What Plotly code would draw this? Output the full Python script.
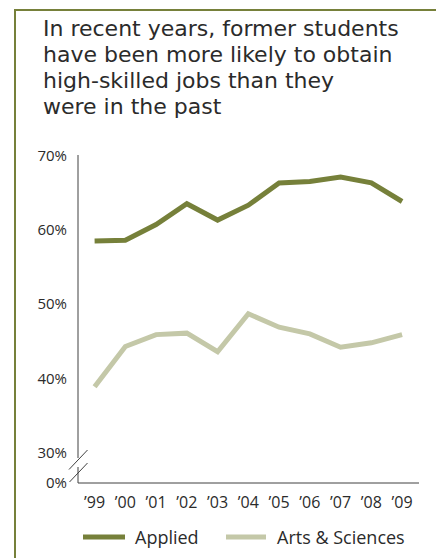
import plotly.graph_objects as go

# Share of former students in high-skilled jobs, by graduating year
years = ["’99", "’00", "’01", "’02", "’03", "’04", "’05", "’06", "’07", "’08", "’09"]
applied = [58.5, 58.6, 60.7, 63.5, 61.3, 63.3, 66.3, 66.5, 67.1, 66.3, 63.8]
arts_sciences = [38.9, 44.3, 45.9, 46.1, 43.6, 48.7, 46.9, 46.0, 44.2, 44.8, 45.9]

# Axis with a break: 0% sits just below 30% on the drawn scale
y_tick_vals = [25.95, 30, 40, 50, 60, 70]
y_tick_text = ["0%", "30%", "40%", "50%", "60%", "70%"]

title_lines = ["In recent years, former students",
               "have been more likely to obtain",
               "high-skilled jobs than they",
               "were in the past"]

OLIVE = "#76803A"
SAGE = "#C4C8A8"
AXIS = "#404040"
TEXT = "#2b2b2b"
FONT = "Open Sans"
TITLE_FONT = "DejaVu Sans"

W, H = 436, 558
L, R, T, B = 78, 17, 155, 75
PW, PH = W - L - R, H - T - B


def px(x):
    return (x - L) / PW


def py(y):
    return (H - B - y) / PH


fig = go.Figure()
fig.add_trace(go.Scatter(x=list(range(len(years))), y=applied, mode="lines",
                         line=dict(color=OLIVE, width=5), name="Applied",
                         showlegend=False))
fig.add_trace(go.Scatter(x=list(range(len(years))), y=arts_sciences, mode="lines",
                         line=dict(color=SAGE, width=5), name="Arts & Sciences",
                         showlegend=False))

shapes = []
# frame around the panel (top and left edges)
shapes.append(dict(type="line", xref="paper", yref="paper", x0=px(14), x1=px(440),
                   y0=py(10), y1=py(10), line=dict(color=OLIVE, width=2)))
shapes.append(dict(type="line", xref="paper", yref="paper", x0=px(15), x1=px(15),
                   y0=py(9), y1=py(562), line=dict(color=OLIVE, width=2)))
# y axis, split by the break
shapes.append(dict(type="line", xref="paper", yref="paper", x0=0, x1=0,
                   y0=py(458), y1=1, line=dict(color=AXIS, width=1)))
shapes.append(dict(type="line", xref="paper", yref="paper", x0=0, x1=0,
                   y0=0, y1=py(467), line=dict(color=AXIS, width=1)))
# x axis
shapes.append(dict(type="line", xref="paper", yref="paper", x0=0, x1=1,
                   y0=0, y1=0, line=dict(color=AXIS, width=1)))
# break marks
shapes.append(dict(type="line", xref="paper", yref="paper", x0=px(69), x1=px(87.5),
                   y0=py(469.5), y1=py(450), line=dict(color=AXIS, width=1)))
shapes.append(dict(type="line", xref="paper", yref="paper", x0=px(69.5), x1=px(87.5),
                   y0=py(482), y1=py(463), line=dict(color=AXIS, width=1)))
# legend swatches
shapes.append(dict(type="line", xref="paper", yref="paper", x0=px(83), x1=px(125),
                   y0=py(537), y1=py(537), line=dict(color=OLIVE, width=5)))
shapes.append(dict(type="line", xref="paper", yref="paper", x0=px(226), x1=px(266),
                   y0=py(537), y1=py(537), line=dict(color=SAGE, width=5)))

# Title: base size sets the line spacing, inner spans set the glyph size
title_text = "<br>".join('<span style="font-size:22px">%s</span>' % s
                         for s in title_lines)

annotations = [
    dict(text=title_text, xref="paper", yref="paper", x=px(41), y=py(14),
         xanchor="left", yanchor="top", align="left", showarrow=False,
         font=dict(family=TITLE_FONT, size=20, color=TEXT)),
    dict(text="Applied", xref="paper", yref="paper", x=px(133), y=py(537),
         xanchor="left", yanchor="middle", showarrow=False,
         font=dict(family=FONT, size=18, color=TEXT)),
    dict(text="Arts & Sciences", xref="paper", yref="paper", x=px(275), y=py(537),
         xanchor="left", yanchor="middle", showarrow=False,
         font=dict(family=FONT, size=18, color=TEXT)),
]

fig.update_layout(
    width=W, height=H,
    margin=dict(l=L, r=R, t=T, b=B),
    paper_bgcolor="white", plot_bgcolor="white",
    font=dict(family=FONT, color=TEXT),
    shapes=shapes, annotations=annotations,
    xaxis=dict(range=[-0.54, 10.55], tickmode="array",
               tickvals=list(range(len(years))), ticktext=years,
               showgrid=False, zeroline=False, showline=False, ticks="",
               ticklabelstandoff=8, tickfont=dict(size=16, color=TEXT),
               fixedrange=True),
    yaxis=dict(range=[25.95, 70.05], tickmode="array", tickvals=y_tick_vals,
               ticktext=y_tick_text, showgrid=False, zeroline=False, showline=False,
               ticks="", ticklabelstandoff=10, tickfont=dict(size=15, color=TEXT),
               fixedrange=True),
    showlegend=False,
)

fig.write_html("out.html")
